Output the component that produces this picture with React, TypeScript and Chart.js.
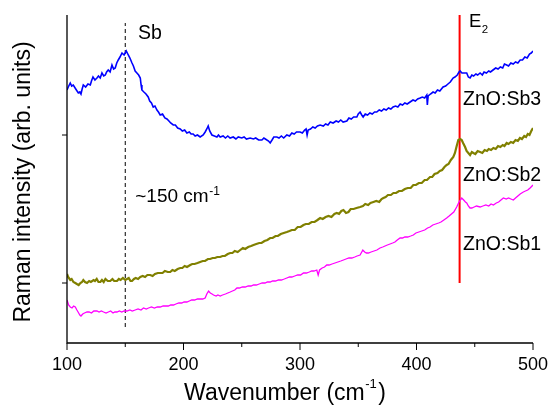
import { useEffect, useRef } from 'react';
import { Chart, registerables } from 'chart.js';

Chart.register(...registerables);

const FONT = '"Liberation Sans", Arial, Helvetica, sans-serif';

const xTicks = [100, 200, 300, 400, 500];
const xMinorTicks = [150, 250, 350, 450];
const yTicks = [60, 208];

// ZnO:Sb3 (blue) [wavenumber, intensity arb.]
const sb3Spectrum: [number, number][] = [
  [100, 253], [101.5, 257], [102.8, 260], [104, 257], [105.4, 258], [107.5, 254], [109.7, 250], [111, 251], [112, 249], [113, 254],
  [114, 258], [116, 256], [118, 259], [120, 258], [121, 262], [122.3, 266], [124, 263], [125.7, 265], [127, 267], [128.5, 265],
  [130, 270], [131.5, 267], [132.9, 268], [134, 271], [135.4, 273], [137, 271], [138.6, 278], [140, 274], [141.4, 275], [142.7, 280],
  [144, 283], [145.5, 286], [147.2, 290], [149, 288], [150.9, 292], [152.6, 288], [154, 285], [155.8, 280], [157, 277], [158.5, 272],
  [160, 270], [161.5, 268], [162.9, 265], [163.6, 258], [164.3, 253], [166, 251], [167.8, 249], [169.7, 246], [171, 242], [172.5, 240],
  [174, 236], [175.5, 237], [177.2, 233], [178.5, 231], [180, 228], [182, 229], [184, 225], [185.8, 224], [187.5, 222], [189, 220],
  [191.2, 218], [193, 218], [195, 215], [197.2, 214], [199, 212], [201, 213], [202.9, 210], [205, 211], [206.5, 209], [208.3, 209],
  [210, 207], [212, 208], [214.3, 206], [216.9, 208], [218.6, 211], [220, 214], [221.2, 217], [222.5, 212], [224.4, 208], [226.5, 207],
  [228.7, 206], [230, 208], [231.5, 206], [234, 207], [236, 205], [238, 207], [240, 205], [242.7, 206], [245, 204], [247, 206],
  [250, 205], [252, 206], [254, 204], [257.2, 205], [260, 204], [262, 205], [264.5, 203], [267.3, 203], [269, 205], [271.6, 203],
  [273, 202], [274.4, 200], [276, 203], [277.5, 206], [280.1, 206], [282, 205], [284, 207], [286, 205], [288.7, 208], [291, 207],
  [293, 210], [295, 209], [297, 211], [300.1, 211], [302, 210], [304, 213], [305.2, 214], [306.1, 208], [307, 213], [309, 214],
  [311, 216], [313, 215], [315, 217], [317.3, 218], [320, 217], [322, 219], [324, 218], [326, 221], [328.4, 220], [331, 222],
  [333, 221], [335, 223], [337, 221], [340.2, 222], [342, 225], [344, 224], [346, 226], [348.8, 226], [350, 229], [351.6, 231],
  [353, 228], [354.2, 226], [356, 229], [358, 228], [360, 230], [362, 229], [364, 231], [365.9, 231], [368, 233], [370, 232],
  [372, 234], [374, 233], [376, 235], [378, 234], [379.9, 236], [382, 237], [384, 236], [386, 239], [388, 238], [390, 240],
  [392, 239], [394.5, 241], [397, 243], [399, 242], [401, 244], [403.1, 245], [405, 246], [407, 245], [408.8, 248], [409.3, 238],
  [410, 247], [412, 249], [414.2, 251], [416, 250], [418, 253], [420, 252], [422.8, 256], [425, 257], [427, 259], [429, 261],
  [431.4, 265], [433, 266], [435, 268], [436.5, 271], [437.4, 272], [439, 270], [441, 270], [443.1, 270], [444.5, 266], [446, 265],
  [447.5, 268], [449, 267], [451, 269], [452.5, 268], [454.6, 270], [456.5, 268], [458, 271], [460, 270], [462, 272], [463.5, 271],
  [465.7, 273], [468, 275], [470, 274], [472, 276], [474, 275], [475.5, 279], [477.4, 278], [479, 277], [481, 280], [483, 279],
  [485, 281], [487, 280], [489, 283], [491, 283], [493, 286], [495, 285], [497, 289], [498.5, 290], [500, 292],
];

// ZnO:Sb2 (olive)
const sb2Spectrum: [number, number][] = [
  [100, 69], [101, 66], [102.8, 63], [104, 64], [105.5, 61], [107.1, 60], [108.5, 59], [110, 58], [111.5, 60], [112.9, 61],
  [114, 63], [115.5, 61], [117.2, 60], [119, 62], [120.5, 61], [122.8, 63], [124, 62], [125.5, 64], [127, 61], [128.6, 61],
  [130, 63], [131.5, 61], [133, 64], [135, 62], [137.1, 62], [139, 64], [140.5, 62], [142.9, 62], [144.5, 64], [146, 63],
  [148, 65], [150, 63], [151.5, 64], [153, 65], [154.5, 62], [155.8, 62], [157.5, 64], [159, 65], [161, 64], [162.9, 66],
  [165, 67], [167, 66], [169, 68], [171.4, 68], [173.5, 67], [175.5, 69], [178, 70], [180, 70], [182, 70], [184, 72],
  [186.5, 71], [188.6, 71], [190.5, 73], [192.5, 72], [195, 74], [197.2, 75], [199, 75], [201, 77], [203, 76], [205.8, 78],
  [207.5, 79], [209.5, 79], [212, 80], [214.3, 81], [216.5, 82], [218.5, 82], [221, 84], [222.9, 84], [225, 85], [227, 85],
  [229, 86], [231.5, 86], [233.5, 87], [235.5, 87], [238, 89], [240.1, 90], [242, 90], [244, 92], [246.5, 91], [248.7, 93],
  [251, 95], [253, 94], [255.5, 96], [258, 97], [260.1, 98], [262.5, 99], [265, 100], [267, 100], [269.5, 102], [272, 103],
  [274.4, 105], [276.5, 105], [279, 107], [281, 107], [283.5, 109], [286, 110], [288.7, 111], [291, 112], [293, 113], [295.5, 113],
  [298, 116], [300.5, 116], [303, 118], [305, 119], [307.5, 119], [310, 121], [312.5, 121], [315, 123], [317.3, 125], [319.5, 124],
  [322, 126], [324.5, 127], [327, 126], [329.5, 129], [331.6, 130], [333.5, 129], [335.5, 132], [337.3, 133], [339.5, 130], [341.6, 131],
  [343.5, 134], [346, 134], [348.5, 135], [351.6, 136], [354, 137], [356, 139], [358.5, 138], [360.5, 140], [363, 141], [365.5, 142],
  [368, 141], [370, 144], [371.6, 145], [373.5, 146], [375.5, 148], [378, 148], [380.2, 150], [382.5, 150], [385, 152], [387.5, 152],
  [390, 154], [392.5, 155], [395, 155], [397.3, 158], [399.5, 158], [402, 160], [404.5, 160], [407, 163], [409, 163], [411.6, 166],
  [413.5, 166], [415.5, 169], [418, 170], [420, 172], [422, 173], [424, 176], [425.9, 178], [427.5, 179], [429.5, 183], [431.6, 186],
  [433, 190], [434.5, 197], [435.9, 203], [437.5, 204], [438.8, 203], [440, 200], [441.7, 196], [443, 192], [444.5, 190], [446, 188],
  [447.5, 191], [448.8, 190], [450.5, 189], [452.5, 192], [454.6, 191], [456.5, 190], [458.5, 193], [460.5, 192], [462, 194], [464, 193],
  [466, 195], [468, 194], [470, 197], [472, 196], [474, 198], [475.5, 197], [477.4, 200], [479, 199], [481, 201], [483, 200],
  [485, 203], [487, 202], [488.8, 205], [490.5, 204], [492.5, 207], [494, 206], [495.5, 209], [497, 208], [498.5, 212], [500, 215],
];

// ZnO:Sb1 (magenta)
const sb1Spectrum: [number, number][] = [
  [100, 43], [101.4, 38], [102.8, 36], [104.3, 35], [105.7, 37], [107.1, 36], [108.5, 33], [110, 30], [111, 28], [112, 27],
  [113.5, 29], [115, 30], [117.2, 31], [119, 31], [121, 30], [123, 32], [125.7, 32], [127.5, 31], [129.5, 32], [131.4, 31],
  [133.5, 30], [135.5, 31], [137.5, 32], [139.5, 30], [141, 31], [142.9, 31], [145, 32], [147, 31], [149, 32], [151.5, 32],
  [154, 33], [156, 32], [158.5, 33], [161, 34], [163.5, 33], [165.7, 35], [168, 34], [170, 35], [172.5, 36], [175, 35],
  [177.5, 36], [180, 36], [182.5, 37], [185, 37], [187, 37], [189, 38], [191.4, 38], [193.5, 39], [196, 40], [198.5, 40],
  [200.5, 41], [202.9, 41], [205, 42], [207, 43], [209.5, 43], [212, 44], [214.3, 44], [216.5, 44], [218.6, 45], [220, 49],
  [221.5, 52], [223, 50], [224.5, 49], [225.8, 48], [228, 47], [229.5, 48], [231.5, 47], [233.5, 48], [236, 49], [238, 50],
  [240.1, 51], [242, 52], [244, 53], [245.9, 55], [248, 55], [250.5, 56], [253, 56], [255.5, 57], [258, 57], [260.1, 58],
  [262.5, 58], [265, 59], [267.5, 60], [270, 60], [272, 61], [274.4, 61], [276.5, 62], [279, 62], [281.5, 63], [284, 63],
  [286.5, 64], [288.7, 65], [291, 66], [293, 66], [295.5, 67], [298, 68], [300.5, 68], [303, 70], [305.5, 70], [308, 71],
  [310, 72], [312, 72], [314.4, 73], [315.6, 68], [316.8, 73], [319, 75], [321, 76], [323, 78], [325, 78], [327.5, 79],
  [330, 80], [332.5, 81], [335, 82], [337.3, 83], [339.5, 84], [342, 85], [344.5, 85], [347, 86], [349, 87], [351.6, 88],
  [353, 91], [353.9, 93], [355.5, 91], [357, 90], [358.7, 90], [361, 91], [363.5, 92], [366, 93], [368.7, 95], [371, 96],
  [373, 97], [375, 98], [377.3, 99], [379.5, 100], [381.5, 101], [383.5, 103], [385.9, 105], [388, 105], [390, 106], [392.5, 106],
  [395, 107], [397.3, 108], [399.5, 110], [402, 111], [404.5, 112], [407, 113], [409.5, 115], [411.6, 116], [414, 118], [416.5, 119],
  [419, 120], [421, 121], [423.5, 123], [425.9, 125], [428, 127], [430, 129], [432, 131], [434.5, 136], [436.5, 141], [438.8, 145],
  [440.5, 143], [442, 141], [443.1, 140], [444.5, 137], [445.9, 135], [447.5, 135], [449.5, 136], [451.5, 137], [454.6, 136], [457, 137],
  [459.5, 138], [462, 137], [464, 139], [466, 138], [468.5, 140], [470.5, 141], [472.5, 143], [474.6, 145], [477, 144], [479, 145],
  [481, 144], [483.1, 143], [485, 145], [487, 147], [489, 149], [491.7, 151], [493.5, 152], [495.5, 153], [497.5, 155], [500, 158],
];

// marker lines
const e2Line: [number, number][] = [[437, 60], [437, 328]];
const sbLine: [number, number][] = [[150, 16], [150, 320]];

const toPoints = (arr: [number, number][]) => arr.map(([x, y]) => ({ x, y }));

const decorations = {
  id: 'decorations',
  afterDraw(chart: any) {
    const { ctx, chartArea, scales } = chart;
    const xs = scales.x;
    const ys = scales.y;
    const px = (v: number) => xs.getPixelForValue(v);
    const py = (v: number) => ys.getPixelForValue(v);
    ctx.save();
    ctx.strokeStyle = '#000';
    ctx.fillStyle = '#000';
    ctx.lineWidth = 1.3;
    // axes
    ctx.beginPath();
    ctx.moveTo(chartArea.left, chartArea.top);
    ctx.lineTo(chartArea.left, chartArea.bottom);
    ctx.lineTo(chartArea.right, chartArea.bottom);
    ctx.stroke();
    ctx.lineWidth = 1;
    ctx.beginPath();
    xTicks.forEach((v) => {
      const x = px(v);
      ctx.moveTo(x, chartArea.bottom);
      ctx.lineTo(x, chartArea.bottom + 7);
    });
    xMinorTicks.forEach((v) => {
      const x = px(v);
      ctx.moveTo(x, chartArea.bottom);
      ctx.lineTo(x, chartArea.bottom + 4);
    });
    yTicks.forEach((v) => {
      const y = py(v);
      ctx.moveTo(chartArea.left, y);
      ctx.lineTo(chartArea.left - 5, y);
    });
    ctx.stroke();

    // tick labels
    ctx.textBaseline = 'alphabetic';
    ctx.textAlign = 'center';
    ctx.font = `18px ${FONT}`;
    xTicks.forEach((v) => {
      ctx.fillText(String(v), px(v), chartArea.bottom + 27);
    });

    // texts
    ctx.textAlign = 'left';
    const txt = (s: string, x: number, y: number, size: number) => {
      ctx.font = `${size}px ${FONT}`;
      ctx.fillText(s, x, y);
      return ctx.measureText(s).width;
    };
    txt('Sb', px(161), py(304), 19.5);
    const eW = txt('E', px(445), py(316), 18.5);
    txt('2', px(445) + eW + 0.5, py(316) + 6, 11.5);
    txt('ZnO:Sb3', px(440), py(238), 19.5);
    txt('ZnO:Sb2', px(440), py(162), 19.5);
    txt('ZnO:Sb1', px(440), py(93), 19.5);
    const cmW = txt('~150 cm', px(158.6), py(141), 19);
    txt('-1', px(158.6) + cmW + 0.5, py(141) - 7, 12);

    // x title
    ctx.font = `23px ${FONT}`;
    const a = 'Wavenumber (cm';
    const b = ')';
    const wa = ctx.measureText(a).width;
    const wb = ctx.measureText(b).width;
    ctx.font = `13px ${FONT}`;
    const ws = ctx.measureText('-1').width;
    const total = wa + ws + 2 + wb;
    const x0 = 285 - total / 2;
    const base = 400;
    txt(a, x0, base, 23);
    txt('-1', x0 + wa + 0.5, base - 12, 13);
    txt(b, x0 + wa + ws + 2, base, 23);

    // y title
    ctx.save();
    ctx.translate(30, 182);
    ctx.rotate(-Math.PI / 2);
    ctx.textAlign = 'center';
    ctx.font = `23px ${FONT}`;
    ctx.fillText('Raman intensity (arb. units)', 0, 0);
    ctx.restore();
    ctx.restore();
  },
};

export default function App() {
  const ref = useRef<HTMLCanvasElement | null>(null);
  useEffect(() => {
    if (!ref.current) return;
    const chart = new Chart(ref.current, {
      type: 'line',
      data: {
        datasets: [
          { data: toPoints(sb3Spectrum), borderColor: '#0000ff', borderWidth: 1.6 },
          { data: toPoints(sb2Spectrum), borderColor: '#808000', borderWidth: 2.2 },
          { data: toPoints(sb1Spectrum), borderColor: '#ff00ff', borderWidth: 1.3 },
          { data: toPoints(e2Line), borderColor: '#ff0000', borderWidth: 2 },
          { data: toPoints(sbLine), borderColor: '#000000', borderWidth: 1, borderDash: [4, 3] },
        ],
      },
      options: {
        animation: false,
        responsive: false,
        events: [],
        layout: { padding: { top: 15, right: 16, left: 0, bottom: 0 } },
        elements: { point: { radius: 0 }, line: { tension: 0, fill: false } },
        plugins: { legend: { display: false }, tooltip: { enabled: false } },
        scales: {
          x: {
            type: 'linear',
            min: 100,
            max: 500,
            grid: { display: false, drawTicks: false },
            border: { display: false },
            ticks: { display: false },
            afterFit: (s: any) => { s.height = 62; },
          },
          y: {
            type: 'linear',
            min: 0,
            max: 328,
            grid: { display: false, drawTicks: false },
            border: { display: false },
            ticks: { display: false },
            afterFit: (s: any) => { s.width = 67; },
          },
        },
      },
      plugins: [decorations],
    });
    return () => chart.destroy();
  }, []);
  return (
    <div style={{ position: 'fixed', left: 0, top: 0, width: 549, height: 405, background: '#fff' }}>
      <canvas ref={ref} width={549} height={405} />
    </div>
  );
}
